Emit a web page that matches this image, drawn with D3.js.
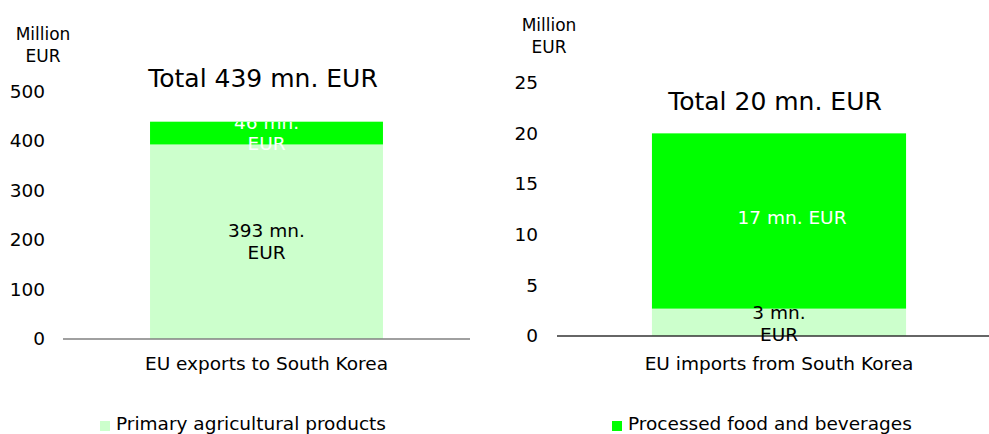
<!DOCTYPE html>
<html><head><meta charset="utf-8">
<script src="https://cdn.jsdelivr.net/npm/d3@7"></script>
<style>body{margin:0;background:#fff}svg{display:block}text{font-family:"DejaVu Sans",Verdana,sans-serif}</style>
</head><body>
<svg id="c" width="989" height="434"></svg>
<script>
const seriesNames = ["Primary agricultural products", "Processed food and beverages"];
const seriesColors = ["#CCFFCC", "#00FF00"];
const leftCategory = ["EU exports to South Korea"];
const leftValues = [393, 46];
const leftTicks = [0, 100, 200, 300, 400, 500];
const leftTitle = "Total 439 mn. EUR";
const leftLabels = [["393 mn.", "EUR"], ["46 mn.", "EUR"]];
const rightCategory = ["EU imports from South Korea"];
const rightValues = [2.7, 17.3];
const rightTicks = [0, 5, 10, 15, 20, 25];
const rightTitle = "Total 20 mn. EUR";
const rightLabels = [["3 mn.", "EUR"], ["17 mn. EUR"]];
const unitLabel = ["Million", "EUR"];

const svg = d3.select("#c");
const FS = 18.5;

function panel(cfg) {
  const g = svg.append("g");
  const y = d3.scaleLinear().domain(cfg.domain).range(cfg.yRange);
  const x = d3.scaleBand().domain(cfg.category).range(cfg.xRange).paddingInner(0.272).paddingOuter(0.272);
  // unit label
  g.append("text").attr("x", cfg.unitX).attr("y", cfg.unitY).attr("text-anchor", "middle")
    .attr("font-size", 17).attr("fill", "#000")
    .selectAll("tspan").data(unitLabel).join("tspan")
    .attr("x", cfg.unitX).attr("dy", (d, i) => i ? 22 : 0).text(d => d);
  // y axis (labels only)
  const ya = g.append("g").attr("transform", `translate(${cfg.tickX},0)`)
    .call(d3.axisLeft(y).tickValues(cfg.ticks).tickSize(0).tickPadding(0));
  ya.select(".domain").remove();
  ya.selectAll("text").attr("font-size", FS).attr("fill", "#000").attr("font-family", '"DejaVu Sans",Verdana,sans-serif');
  // stacked bars
  let acc = 0;
  const segs = cfg.values.map((v, i) => { const s = {i, y0: acc, y1: acc + v}; acc += v; return s; });
  g.selectAll("rect.seg").data(segs).join("rect").attr("class", "seg")
    .attr("x", x(cfg.category[0])).attr("width", x.bandwidth())
    .attr("y", d => y(d.y1)).attr("height", d => y(d.y0) - y(d.y1))
    .attr("fill", d => seriesColors[d.i]);
  // baseline
  g.append("line").attr("x1", cfg.lineX[0]).attr("x2", cfg.lineX[1])
    .attr("y1", y(0)).attr("y2", y(0)).attr("stroke", cfg.lineColor).attr("stroke-width", 1.3);
  // clip for labels
  const cid = "clip" + cfg.id;
  svg.append("clipPath").attr("id", cid).append("rect")
    .attr("x", 0).attr("width", 989).attr("y", y(acc)).attr("height", 434);
  const lg = g.append("g").attr("clip-path", `url(#${cid})`);
  segs.forEach((s, k) => {
    const lines = cfg.labels[k];
    const cx = x(cfg.category[0]) + x.bandwidth() / 2 + (cfg.labelDx[k] || 0);
    const cy = (y(s.y0) + y(s.y1)) / 2 + (cfg.labelDy[k] || 0);
    const lh = 21.5;
    const t = lg.append("text").attr("text-anchor", "middle").attr("font-size", FS)
      .attr("fill", k === 1 ? "#fff" : "#000");
    lines.forEach((ln, j) => {
      t.append("tspan").attr("x", cx).attr("y", cy + (j - (lines.length - 1) / 2) * lh).attr("dy", "0.35em").text(ln);
    });
  });
  // title
  g.append("text").attr("x", cfg.titleX).attr("y", cfg.titleY).attr("text-anchor", "middle")
    .attr("font-family", '"Liberation Sans",Arial,sans-serif').attr("font-size", 25).attr("fill", "#000")
    .text(cfg.title);
  // x category label
  g.append("text").attr("x", x(cfg.category[0]) + x.bandwidth() / 2).attr("y", 370)
    .attr("text-anchor", "middle").attr("font-size", FS).attr("fill", "#000").text(cfg.category[0]);
  // legend
  const li = cfg.legendIndex;
  g.append("rect").attr("x", cfg.legendX).attr("y", 421).attr("width", 10).attr("height", 10).attr("fill", seriesColors[li]);
  g.append("text").attr("x", cfg.legendX + 16).attr("y", 430).attr("font-size", FS).attr("fill", "#000").text(seriesNames[li]);
}

panel({id: "L", domain: [0, 500], yRange: [339, 91.5], xRange: [63, 470], category: leftCategory,
  values: leftValues, ticks: leftTicks, title: leftTitle, labels: leftLabels,
  unitX: 43, unitY: 40, tickX: 45, lineX: [63, 470], lineColor: "#808080",
  titleX: 263, titleY: 87, labelDx: [0, 0], labelDy: [0, 0], legendIndex: 0, legendX: 100});
panel({id: "R", domain: [0, 25], yRange: [336, 82.7], xRange: [557, 1001], category: rightCategory,
  values: rightValues, ticks: rightTicks, title: rightTitle, labels: rightLabels,
  unitX: 549, unitY: 31, tickX: 538, lineX: [557, 989], lineColor: "#333",
  titleX: 775, titleY: 110, labelDx: [0, 13], labelDy: [1, -3], legendIndex: 1, legendX: 612});
</script>
</body></html>
